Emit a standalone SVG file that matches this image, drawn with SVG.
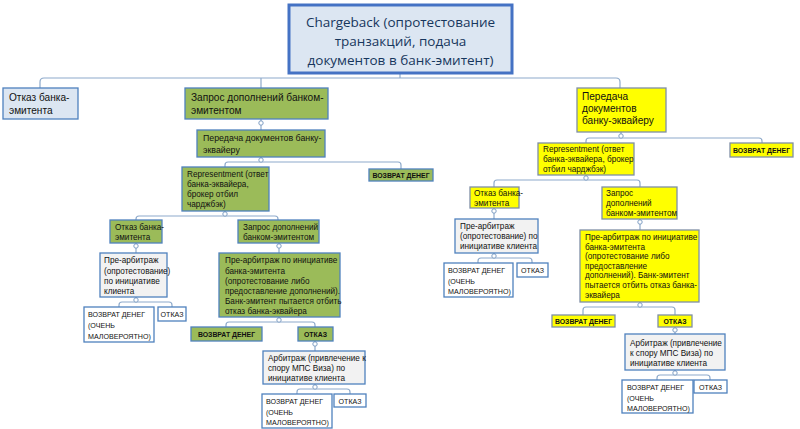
<svg xmlns="http://www.w3.org/2000/svg" width="800" height="429" viewBox="0 0 800 429">
<style>
.bg{fill:#ffffff}
.root{fill:#dce6f2;stroke:#4472c4;stroke-width:3}
.blue{fill:#dce6f2;stroke:#4f81bd;stroke-width:1.3}
.green{fill:#9bbb59;stroke:#4f81bd;stroke-width:1.3}
.yel{fill:#ffff00;stroke:#7f8fa6;stroke-width:1.3}
.gray{fill:#f2f2f2;stroke:#4f81bd;stroke-width:1.3}
.white{fill:#ffffff;stroke:#4f81bd;stroke-width:1.3}
.rt{font-family:"Open Sans","Liberation Sans",sans-serif;font-size:13.5px;fill:#17365d;text-anchor:middle}
.tl{font-family:"Liberation Sans",Arial,sans-serif;font-size:10.1px;fill:#111}
.tm{font-family:"Liberation Sans",Arial,sans-serif;font-size:8.8px;fill:#111}
.ts{font-family:"Liberation Sans",Arial,sans-serif;font-size:8.2px;fill:#111}
.tc{font-family:"Liberation Sans",Arial,sans-serif;font-size:7.1px;fill:#111}
.tb{font-family:"Liberation Sans",Arial,sans-serif;font-size:6.9px;font-weight:bold;fill:#111;text-anchor:middle}
.tcm{text-anchor:middle}
.ln{fill:none;stroke:#8eaacb;stroke-width:1.2}
.dot{fill:#ffffff;stroke:#7f9fc4;stroke-width:1}
</style>
<rect class="bg" x="0" y="0" width="800" height="429"/>

<g id="connectors">
<path class="ln" d="M400,73 V78 M40,88 V82 Q40,78 44,78 H616 Q620,78 620,82 V88 M261,78 V88"/>
<path class="ln" d="M261,119 V130"/>
<path class="ln" d="M261,157 V162 M225,167 V165 Q225,162 228,162 H398 Q401,162 401,165 V170"/>
<path class="ln" d="M225,211 V216 M136,220 V219 Q136,216 139,216 H275 Q278,216 278,219 V220"/>
<path class="ln" d="M136,243 V253"/>
<path class="ln" d="M279,243 V253"/>
<path class="ln" d="M136,297 V302 M119,307 V305 Q119,302 122,302 H169 Q172,302 172,305 V307"/>
<path class="ln" d="M279,317 V322 M226,327 V325 Q226,322 229,322 H312 Q315,322 315,325 V327"/>
<path class="ln" d="M315,341 V351"/>
<path class="ln" d="M315,384 V389 M297,394 V392 Q297,389 300,389 H347 Q350,389 350,392 V394"/>
<path class="ln" d="M621,132 V138 M586,143 V141 Q586,138 589,138 H759 Q762,138 762,141 V143"/>
<path class="ln" d="M586,175 V180 M494,187 V183 Q494,180 497,180 H637 Q640,180 640,183 V187"/>
<path class="ln" d="M494,208 V219"/>
<path class="ln" d="M640,219 V230"/>
<path class="ln" d="M494,253 V258 M478,263 V261 Q478,258 481,258 H529 Q532,258 532,261 V263"/>
<path class="ln" d="M640,302 V307 M583,315 V310 Q583,307 586,307 H672 Q675,307 675,310 V315"/>
<path class="ln" d="M675,327 V334"/>
<path class="ln" d="M675,370 V375 M657,380 V378 Q657,375 660,375 H707 Q710,375 710,378 V380"/>
<circle class="dot" cx="261" cy="123" r="2.2"/>
<circle class="dot" cx="261" cy="160" r="2.2"/>
<circle class="dot" cx="225" cy="214" r="2.2"/>
<circle class="dot" cx="136" cy="246" r="2.2"/>
<circle class="dot" cx="279" cy="246" r="2.2"/>
<circle class="dot" cx="136" cy="300" r="2.2"/>
<circle class="dot" cx="279" cy="320" r="2.2"/>
<circle class="dot" cx="315" cy="344" r="2.2"/>
<circle class="dot" cx="315" cy="387" r="2.2"/>
<circle class="dot" cx="621" cy="136" r="2.2"/>
<circle class="dot" cx="586" cy="178" r="2.2"/>
<circle class="dot" cx="494" cy="211" r="2.2"/>
<circle class="dot" cx="640" cy="222" r="2.2"/>
<circle class="dot" cx="494" cy="256" r="2.2"/>
<circle class="dot" cx="640" cy="305" r="2.2"/>
<circle class="dot" cx="675" cy="330" r="2.2"/>
<circle class="dot" cx="675" cy="373" r="2.2"/>
</g>

<g id="root">
<rect class="root" x="289" y="5" width="223" height="68"/>
<text class="rt" x="400.5" y="27">Chargeback (опротестование</text>
<text class="rt" x="400.5" y="46">транзакций, подача</text>
<text class="rt" x="400.5" y="65">документов в банк-эмитент)</text>
</g>

<g id="n-otkaz-top">
<rect class="blue" x="3" y="88" width="75" height="31"/>
<text class="tl" x="9" y="101">Отказ банка-</text>
<text class="tl" x="9" y="114">эмитента</text>
</g>

<g id="n-zapros-top">
<rect class="green" x="185" y="88" width="143" height="31"/>
<text class="tl" x="191" y="101">Запрос дополнений банком-</text>
<text class="tl" x="191" y="114">эмитентом</text>
</g>

<g id="n-peredacha-top">
<rect class="yel" x="577" y="88" width="89" height="44"/>
<text class="tl" x="582" y="100">Передача</text>
<text class="tl" x="582" y="112">документов</text>
<text class="tl" x="582" y="124">банку-эквайеру</text>
</g>

<g id="g-peredacha">
<rect class="green" x="197" y="130" width="128" height="27"/>
<text class="tm" x="203" y="141">Передача документов банку-</text>
<text class="tm" x="203" y="153">эквайеру</text>
</g>

<g id="g-representment">
<rect class="green" x="182" y="167" width="87" height="44"/>
<text class="ts" x="187" y="177">Representment (ответ</text>
<text class="ts" x="187" y="187">банка-эквайера,</text>
<text class="ts" x="187" y="197">брокер отбил</text>
<text class="ts" x="187" y="207">чарджбэк)</text>
</g>

<g id="g-vozvrat1">
<rect class="green" x="369" y="169" width="64" height="12"/>
<text class="tb" x="401" y="178">ВОЗВРАТ ДЕНЕГ</text>
</g>

<g id="g-otkaz">
<rect class="green" x="110" y="220" width="52" height="23"/>
<text class="ts" x="115" y="230">Отказ банка-</text>
<text class="ts" x="115" y="240">эмитента</text>
</g>

<g id="g-zapros">
<rect class="green" x="238" y="220" width="81" height="23"/>
<text class="ts" x="243" y="230">Запрос дополнений</text>
<text class="ts" x="243" y="240">банком-эмитентом</text>
</g>

<g id="g-prearb-client">
<rect class="gray" x="100" y="253" width="67" height="44"/>
<text class="ts" x="104" y="263">Пре-арбитраж</text>
<text class="ts" x="104" y="273.5">(опротестование)</text>
<text class="ts" x="104" y="284">по инициативе</text>
<text class="ts" x="104" y="294">клиента</text>
</g>

<g id="g-prearb-bank">
<rect class="green" x="219" y="253" width="121" height="64"/>
<text class="ts" x="225" y="263">Пре-арбитраж по инициативе</text>
<text class="ts" x="225" y="273.5">банка-эмитента</text>
<text class="ts" x="225" y="284">(опротестование либо</text>
<text class="ts" x="225" y="294">предоставление дополнений).</text>
<text class="ts" x="225" y="304">Банк-эмитент пытается отбить</text>
<text class="ts" x="225" y="314">отказ банка-эквайера</text>
</g>

<g id="g-vozvrat-unlikely1">
<rect class="white" x="84" y="307" width="70" height="35"/>
<text class="tc" x="88" y="317">ВОЗВРАТ ДЕНЕГ</text>
<text class="tc" x="88" y="328">(ОЧЕНЬ</text>
<text class="tc" x="88" y="339">МАЛОВЕРОЯТНО)</text>
</g>

<g id="g-otkaz1">
<rect class="white" x="158" y="307" width="28" height="14"/>
<text class="tc tcm" x="172" y="317">ОТКАЗ</text>
</g>

<g id="g-vozvrat2">
<rect class="green" x="191" y="327" width="71" height="14"/>
<text class="tb" x="226.5" y="337">ВОЗВРАТ ДЕНЕГ</text>
</g>

<g id="g-otkaz2">
<rect class="green" x="298" y="327" width="35" height="14"/>
<text class="tb" x="315.5" y="337">ОТКАЗ</text>
</g>

<g id="g-arbitrazh">
<rect class="gray" x="263" y="351" width="102" height="33"/>
<text class="ts" x="268" y="361">Арбитраж (привлечение к</text>
<text class="ts" x="268" y="371">спору МПС Виза) по</text>
<text class="ts" x="268" y="381">инициативе клиента</text>
</g>

<g id="g-vozvrat-unlikely2">
<rect class="white" x="262" y="394" width="70" height="34"/>
<text class="tc" x="266" y="404">ВОЗВРАТ ДЕНЕГ</text>
<text class="tc" x="266" y="415">(ОЧЕНЬ</text>
<text class="tc" x="266" y="425">МАЛОВЕРОЯТНО)</text>
</g>

<g id="g-otkaz3">
<rect class="white" x="334" y="394" width="32" height="13"/>
<text class="tc tcm" x="350" y="403.5">ОТКАЗ</text>
</g>

<g id="y-representment">
<rect class="yel" x="538" y="143" width="96" height="32"/>
<text class="ts" x="543" y="152">Representment (ответ</text>
<text class="ts" x="543" y="162">банка-эквайера, брокер</text>
<text class="ts" x="543" y="172">отбил чарджбэк)</text>
</g>

<g id="y-vozvrat1">
<rect class="yel" x="730" y="143" width="63" height="14"/>
<text class="tb" x="761.5" y="152.5">ВОЗВРАТ ДЕНЕГ</text>
</g>

<g id="y-otkaz">
<rect class="yel" x="470" y="187" width="49" height="21"/>
<text class="ts" x="474" y="196">Отказ банка-</text>
<text class="ts" x="474" y="206">эмитента</text>
</g>

<g id="y-zapros">
<rect class="yel" x="602" y="187" width="75" height="32"/>
<text class="ts" x="606" y="196">Запрос</text>
<text class="ts" x="606" y="206">дополнений</text>
<text class="ts" x="606" y="216">банком-эмитентом</text>
</g>

<g id="y-prearb-client">
<rect class="gray" x="455" y="219" width="83" height="34"/>
<text class="ts" x="460" y="229">Пре-арбитраж</text>
<text class="ts" x="460" y="239">(опротестование) по</text>
<text class="ts" x="460" y="249">инициативе клиента</text>
</g>

<g id="y-prearb-bank">
<rect class="yel" x="580" y="230" width="119" height="72"/>
<text class="ts" x="585" y="240">Пре-арбитраж по инициативе</text>
<text class="ts" x="585" y="249.5">банка-эмитента</text>
<text class="ts" x="585" y="259">(опротестование либо</text>
<text class="ts" x="585" y="268.5">предоставление</text>
<text class="ts" x="585" y="278">дополнений). Банк-эмитент</text>
<text class="ts" x="585" y="288">пытается отбить отказ банка-</text>
<text class="ts" x="585" y="298">эквайера</text>
</g>

<g id="y-vozvrat-unlikely1">
<rect class="white" x="444" y="263" width="69" height="34"/>
<text class="tc" x="448" y="273">ВОЗВРАТ ДЕНЕГ</text>
<text class="tc" x="448" y="283.5">(ОЧЕНЬ</text>
<text class="tc" x="448" y="294">МАЛОВЕРОЯТНО)</text>
</g>

<g id="y-otkaz1">
<rect class="white" x="517" y="263" width="31" height="14"/>
<text class="tc tcm" x="532.5" y="273">ОТКАЗ</text>
</g>

<g id="y-vozvrat2">
<rect class="yel" x="552" y="315" width="63" height="12"/>
<text class="tb" x="583.5" y="324">ВОЗВРАТ ДЕНЕГ</text>
</g>

<g id="y-otkaz2">
<rect class="yel" x="658" y="315" width="34" height="12"/>
<text class="tb" x="675" y="324">ОТКАЗ</text>
</g>

<g id="y-arbitrazh">
<rect class="gray" x="625" y="334" width="100" height="36"/>
<text class="ts" x="630" y="346">Арбитраж (привлечение</text>
<text class="ts" x="630" y="356">к спору МПС Виза) по</text>
<text class="ts" x="630" y="366">инициативе клиента</text>
</g>

<g id="y-vozvrat-unlikely2">
<rect class="white" x="622" y="380" width="71" height="33"/>
<text class="tc" x="627" y="390">ВОЗВРАТ ДЕНЕГ</text>
<text class="tc" x="627" y="400.5">(ОЧЕНЬ</text>
<text class="tc" x="627" y="411">МАЛОВЕРОЯТНО)</text>
</g>

<g id="y-otkaz3">
<rect class="white" x="694" y="380" width="33" height="13"/>
<text class="tc tcm" x="710.5" y="389.5">ОТКАЗ</text>
</g>
</svg>
